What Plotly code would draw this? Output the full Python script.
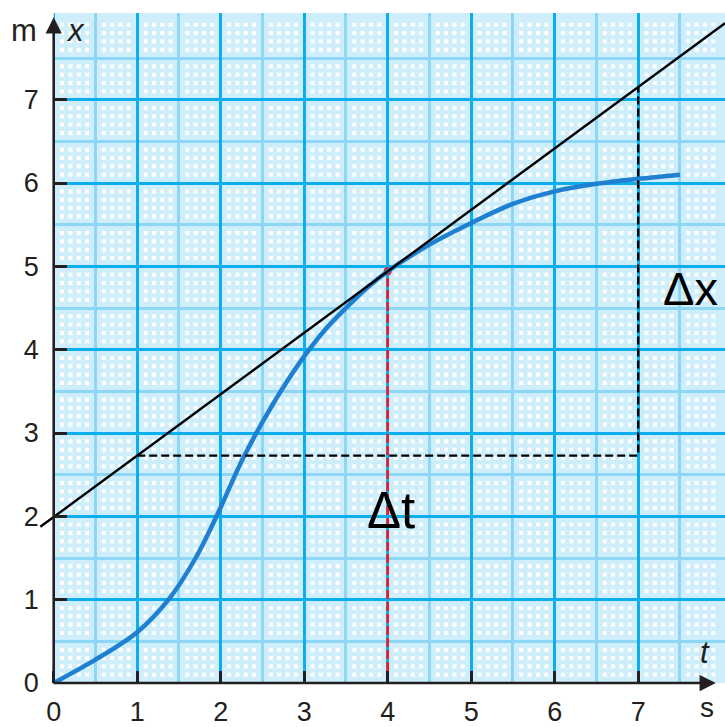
import numpy as np
import plotly.graph_objects as go

# Position–time curve: t in s, x in m
t_vals = [0.0, 0.5, 1.0, 1.375, 1.7, 1.95, 2.25, 2.5, 2.75, 3.0, 3.25, 3.5, 3.75,
          4.0, 4.5, 5.0, 5.5, 6.0, 6.5, 7.0, 7.5]
x_vals = [0.0, 0.28, 0.61, 1.0, 1.5, 2.0, 2.66, 3.13, 3.55, 3.92, 4.24, 4.5, 4.74,
          4.94, 5.26, 5.52, 5.75, 5.9, 5.99, 6.05, 6.1]

# Tangent at t = 4 s and the slope triangle
tangent_t = 4.0
tangent_slope = 0.737
tangent_span = [-0.16, 8.04]
triangle_t = [1.0, 7.0]

tick_vals = [0, 1, 2, 3, 4, 5, 6, 7]
tick_text = [str(v) for v in tick_vals]

X_RANGE = [-0.2, 8.04]
Y_RANGE = [0.0, 8.04]

INK = "#231f20"
FONT = "Liberation Sans"

x_touch = x_vals[t_vals.index(tangent_t)]


def tangent(t):
    return x_touch + tangent_slope * (t - tangent_t)


fig = go.Figure()

# graph-paper texture: white points at the 0.1 crossings between drawn lines
fine = np.round(np.arange(1, 81) * 0.1, 2)
fine = fine[np.abs(fine * 2 - np.round(fine * 2)) > 1e-6]
gx, gy = np.meshgrid(fine, fine)
fig.add_trace(go.Scatter(
    x=gx.ravel(), y=gy.ravel(), mode="markers",
    marker=dict(symbol="square", size=4, color="white", line=dict(width=0)),
    hoverinfo="skip", showlegend=False))

# red dashed drop line from the tangent point
fig.add_trace(go.Scatter(
    x=[tangent_t, tangent_t], y=[0, x_touch], mode="lines",
    line=dict(color="#ee1c25", width=2.7, dash="9px,3px"),
    hoverinfo="skip", showlegend=False))
fig.add_trace(go.Scatter(
    x=[tangent_t], y=[x_touch], mode="markers",
    marker=dict(color="#ee1c25", size=8, line=dict(width=0)),
    hoverinfo="skip", showlegend=False))

# x(t) curve
fig.add_trace(go.Scatter(
    x=t_vals, y=x_vals, mode="lines",
    line=dict(color="#1f7fd0", width=4.5, shape="spline", smoothing=0.9),
    hoverinfo="skip", showlegend=False))

# slope triangle (Δt horizontal, Δx vertical)
y_low = tangent(triangle_t[0])
y_high = tangent(triangle_t[1])
fig.add_trace(go.Scatter(
    x=[triangle_t[0], triangle_t[1], triangle_t[1]], y=[y_low, y_low, y_high],
    mode="lines", line=dict(color="black", width=2.4, dash="8px,4px"),
    hoverinfo="skip", showlegend=False))

# tangent line
fig.add_trace(go.Scatter(
    x=tangent_span, y=[tangent(tangent_span[0]), tangent(tangent_span[1])],
    mode="lines", line=dict(color="black", width=2.4),
    hoverinfo="skip", showlegend=False))

# blank out the paper left of the x = 0 axis
fig.add_shape(type="rect", xref="x", yref="y", x0=X_RANGE[0], x1=0,
              y0=Y_RANGE[0], y1=Y_RANGE[1], layer="between",
              fillcolor="white", line=dict(width=0))

# axis arrows
fig.add_annotation(x=7.93, y=0, ax=-0.02, ay=0, xref="x", yref="y",
                   axref="x", ayref="y", text="", showarrow=True,
                   arrowhead=2, arrowsize=1.25, arrowwidth=2.6, arrowcolor=INK,
                   standoff=0, startstandoff=0)
fig.add_annotation(x=0, y=7.99, ax=0, ay=-0.02, xref="x", yref="y",
                   axref="x", ayref="y", text="", showarrow=True,
                   arrowhead=2, arrowsize=1.25, arrowwidth=2.6, arrowcolor=INK,
                   standoff=0, startstandoff=0)

# axis names and units
lab = dict(showarrow=False, font=dict(family=FONT, size=31, color=INK))
fig.add_annotation(x=0, y=7.83, xref="x", yref="y", text="m", xshift=-30, **lab)
fig.add_annotation(x=0.26, y=7.83, xref="x", yref="y", text="<i>x</i>", **lab)
fig.add_annotation(x=7.8, y=0.37, xref="x", yref="y", text="<i>t</i>", **lab)
fig.add_annotation(x=7.82, y=0, xref="x", yref="y", text="s", yshift=-24,
                   showarrow=False, font=dict(family=FONT, size=28, color=INK))

# Δt and Δx labels
fig.add_annotation(x=4.04, y=2.07, xref="x", yref="y", text="Δt", showarrow=False,
                   font=dict(family=FONT, size=51, color="black"))
fig.add_annotation(x=7.63, y=4.74, xref="x", yref="y", text="Δx", showarrow=False,
                   font=dict(family=FONT, size=47, color="black"))

axis_common = dict(
    tickmode="array", tickvals=tick_vals, ticktext=tick_text,
    showgrid=True, gridcolor="#0daeed", gridwidth=3,
    minor=dict(tickmode="array",
               tickvals=[v + 0.5 for v in tick_vals],
               showgrid=True, gridcolor="#8dd6f5", gridwidth=2.5, ticks=""),
    zeroline=False, showline=False,
    ticks="inside", ticklen=12, tickwidth=3, tickcolor=INK,
    tickfont=dict(family=FONT, size=27, color=INK),
    fixedrange=True,
)

fig.update_xaxes(range=X_RANGE, ticklabelstandoff=10, **axis_common)
fig.update_yaxes(range=Y_RANGE, anchor="free", ticklabelstandoff=15,
                 position=(0 - X_RANGE[0]) / (X_RANGE[1] - X_RANGE[0]),
                 **axis_common)

fig.update_layout(
    width=725, height=727,
    margin=dict(l=37, r=0, t=13, b=42),
    paper_bgcolor="white", plot_bgcolor="#cdeefa",
    showlegend=False,
)

fig.write_html("out.html")
